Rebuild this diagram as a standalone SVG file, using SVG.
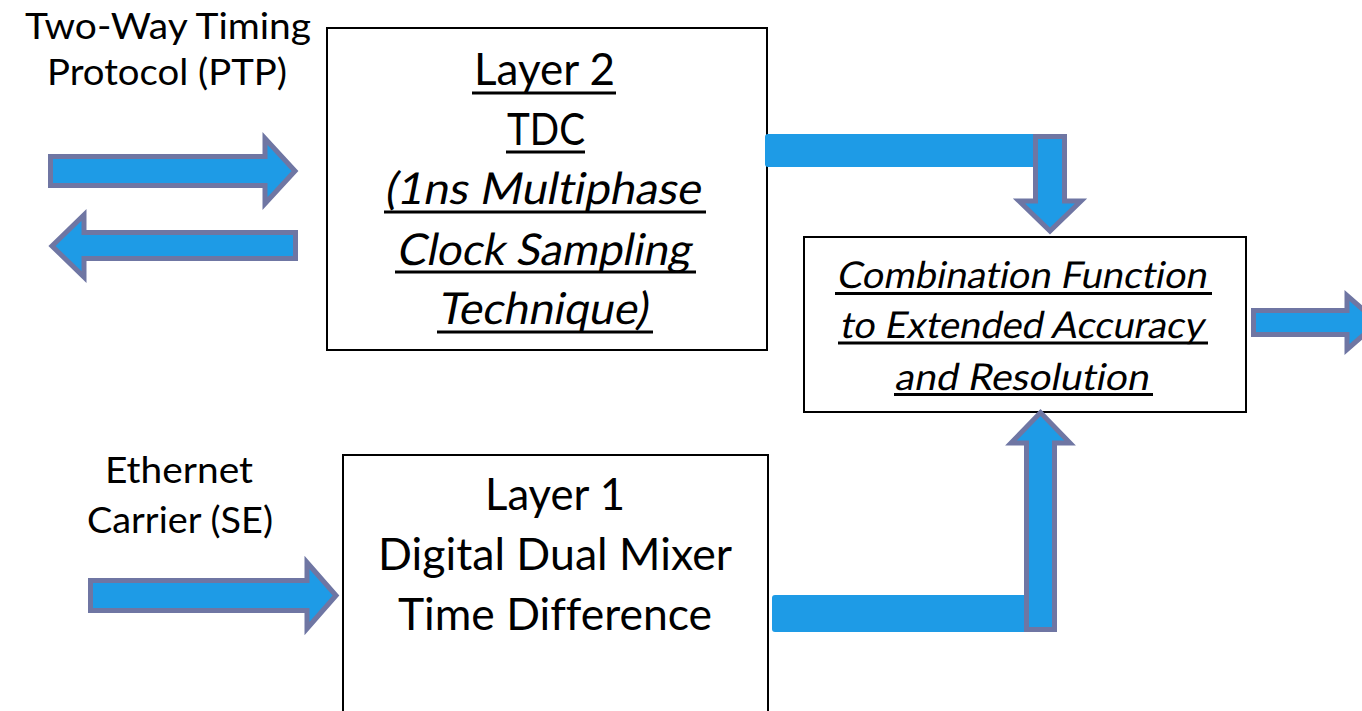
<svg xmlns="http://www.w3.org/2000/svg" width="1362" height="711" viewBox="0 0 1362 711">
<style>
.box{fill:#fff;stroke:#000;stroke-width:2}
.arr{fill:#1e9be6;stroke:#6f76a3;stroke-width:5;stroke-linejoin:miter}
.bar{fill:#1e9be6}
.t{font-family:Lato,"Open Sans",sans-serif;fill:#000;text-anchor:middle;font-variant-ligatures:none}
.big{font-size:44px}
.mid{font-size:37px}
.ul{stroke:#000;stroke-width:3}
</style>
<rect width="1362" height="711" fill="#fff"/>
<g id="label-ptp">
<text class="t mid" x="168" y="39" textLength="286" lengthAdjust="spacingAndGlyphs">Two-Way Timing</text>
<text class="t mid" x="167" y="85" textLength="240" lengthAdjust="spacingAndGlyphs">Protocol (PTP)</text>
</g>
<g id="label-se">
<text class="t mid" x="179" y="483" textLength="148" lengthAdjust="spacingAndGlyphs">Ethernet</text>
<text class="t mid" x="180" y="533" textLength="186" lengthAdjust="spacingAndGlyphs">Carrier (SE)</text>
</g>
<g id="layer2">
<rect class="box" x="327" y="28" width="440" height="322"/>
<text class="t big" x="544.5" y="85" textLength="141" lengthAdjust="spacingAndGlyphs">Layer 2</text>
<text class="t big" x="546" y="145" textLength="78" lengthAdjust="spacingAndGlyphs">TDC</text>
<text class="t big" transform="translate(542,204) skewX(-11)" textLength="316" lengthAdjust="spacingAndGlyphs">(1ns Multiphase</text>
<text class="t big" transform="translate(543,265) skewX(-11)" textLength="294" lengthAdjust="spacingAndGlyphs">Clock Sampling</text>
<text class="t big" transform="translate(542,324) skewX(-11)" textLength="210" lengthAdjust="spacingAndGlyphs">Technique)</text>
<line class="ul" x1="472" y1="93" x2="616" y2="93"/>
<line class="ul" x1="506" y1="152" x2="585" y2="152"/>
<line class="ul" x1="384" y1="212" x2="706" y2="212"/>
<line class="ul" x1="395" y1="272" x2="696" y2="272"/>
<line class="ul" x1="437" y1="332" x2="653" y2="332"/>
</g>
<g id="layer1">
<rect class="box" x="343" y="455" width="425" height="270"/>
<text class="t big" x="555" y="510" textLength="140" lengthAdjust="spacingAndGlyphs">Layer 1</text>
<text class="t big" x="555" y="570" textLength="354" lengthAdjust="spacingAndGlyphs">Digital Dual Mixer</text>
<text class="t big" x="555" y="630" textLength="314" lengthAdjust="spacingAndGlyphs">Time Difference</text>
</g>
<g id="combination">
<rect class="box" x="804" y="237" width="442" height="175"/>
<text class="t mid" transform="translate(1021,288) skewX(-11)" textLength="370" lengthAdjust="spacingAndGlyphs">Combination Function</text>
<text class="t mid" transform="translate(1021,338) skewX(-11)" textLength="364" lengthAdjust="spacingAndGlyphs">to Extended Accuracy</text>
<text class="t mid" transform="translate(1021,390) skewX(-11)" textLength="254" lengthAdjust="spacingAndGlyphs">and Resolution</text>
<line class="ul" x1="835" y1="293.5" x2="1212" y2="293.5"/>
<line class="ul" x1="838" y1="343" x2="1208" y2="343"/>
<line class="ul" x1="894" y1="394.5" x2="1153" y2="394.5"/>
</g>
<g id="connectors">
<path class="arr" d="M50.5,156.5 H265 V138.5 L295,171 L265,203.5 V185.5 H50.5 Z"/>
<path class="arr" d="M295.5,232.5 H84 V215 L52,246 L84,277 V258.5 H295.5 Z"/>
<path class="arr" d="M90.5,580.5 H307 V562.5 L336,595.5 L307,628.5 V610.5 H90.5 Z"/>
<path class="arr" d="M1253.5,310.5 H1347 V295.5 L1378,322.5 L1347,349.5 V334.5 H1253.5 Z"/>
<rect class="bar" x="765" y="134" width="285" height="33" rx="3"/>
<path class="arr" d="M1035.5,136.5 H1064.5 V201 H1081 L1050,231 L1019,201 H1035.5 Z"/>
<rect class="bar" x="772" y="595" width="265" height="37" rx="3"/>
<path class="arr" d="M1026.5,629.5 H1054.5 V443 H1070 L1040.5,412.5 L1011,443 H1026.5 Z"/>
</g>
</svg>
